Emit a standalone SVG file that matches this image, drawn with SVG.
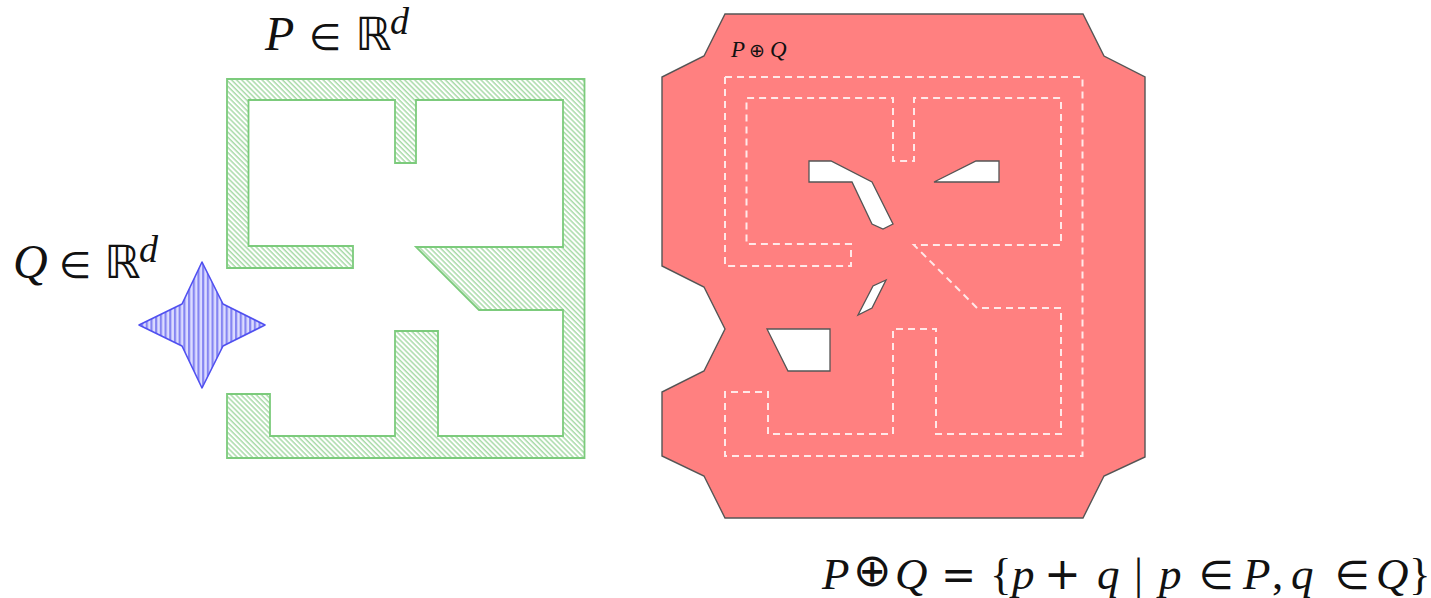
<svg xmlns="http://www.w3.org/2000/svg" width="1431" height="598" viewBox="0 0 1431 598">
<style>
text{fill:#111;font-family:"Liberation Serif","DejaVu Serif",serif;font-size:48px}
.i{font-style:italic}
.m{font-family:"DejaVu Sans","Liberation Sans",sans-serif;font-size:37px}
.n{font-family:"DejaVu Sans","Liberation Sans",sans-serif;font-size:40px}
.b{font-family:"DejaVu Sans","Liberation Sans",sans-serif;font-size:46px}
.s{font-size:38px;font-style:italic}
.f{font-size:45px}
.hole{fill:#fff;stroke:#555;stroke-width:1.3;stroke-linejoin:miter}
</style>
<defs>
<pattern id="g" width="3.6" height="3.6" patternUnits="userSpaceOnUse" patternTransform="rotate(45)">
<rect width="3.6" height="3.6" fill="#fff"/><rect width="3.6" height="1.5" fill="#a9dba9"/>
</pattern>
<pattern id="bl" width="4.7" height="8" patternUnits="userSpaceOnUse">
<rect width="4.7" height="8" fill="#dcdcff"/><rect width="2.2" height="8" fill="#8585f2"/>
</pattern>
<path id="pshape" d="M227 79H584.5V458H227V394H270V436H395V331H438V436H563V310H479L416 247H563V100H416V163H395V100H248.5V246H353V268H227Z"/>
</defs>
<g id="node-P"><use href="#pshape" fill="url(#g)" stroke="#7ccb7c" stroke-width="1.8"/></g>
<g id="node-Q"><path d="M202 262L223 304L265 325L223 346L202 388L182 346L139 325L182 304Z" fill="url(#bl)" stroke="#5050f0" stroke-width="1.6" stroke-linejoin="round"/></g>
<g id="node-PQ">
<path d="M725 14H1083L1104 56L1145 77V457L1104 476L1083 518H725L704 476L662 456V392L704 371L725 329L704 287L662 266V77L704 56Z" fill="#ff8080" stroke="#555" stroke-width="1.4"/>
<path class="hole" d="M809 161H831L872 182L893 224L883 229L872 224L852 182H809Z"/>
<path class="hole" d="M934 182L976 161H999V182Z"/>
<path class="hole" d="M886 280L873 286L858 315L872 308Z"/>
<path class="hole" d="M767 329H830V371H788Z"/>
<use href="#pshape" transform="translate(498,-2)" fill="none" stroke="#ffe8e8" stroke-width="2" stroke-dasharray="7 5"/>
<text x="731" y="57" style="font-size:23px"><tspan class="i">P</tspan><tspan x="749" style="font-family:'DejaVu Sans',sans-serif;font-size:19px">⊕</tspan><tspan class="i" x="770">Q</tspan></text>
</g>
<g id="labels">
<text y="50"><tspan class="i" x="265">P</tspan><tspan class="m" x="309">∈</tspan><tspan class="b" x="355">ℝ</tspan><tspan class="s" x="390" y="34">d</tspan></text>
<text y="278"><tspan class="i" x="13">Q</tspan><tspan class="m" x="59">∈</tspan><tspan class="b" x="104">ℝ</tspan><tspan class="s" x="139" y="262">d</tspan></text>
<text y="589" class="f"><tspan class="i" x="822">P</tspan><tspan class="b" x="853" y="586">⊕</tspan><tspan class="i" x="895" y="589">Q</tspan><tspan class="n" x="941" style="font-size:42px">=</tspan><tspan x="990">{</tspan><tspan class="i" x="1012">p</tspan><tspan class="n" x="1044" style="font-size:44px">+</tspan><tspan class="i" x="1097">q</tspan><tspan x="1134">|</tspan><tspan class="i" x="1159">p</tspan><tspan class="n" x="1199">∈</tspan><tspan class="i" x="1243">P</tspan><tspan x="1272">,</tspan><tspan class="i" x="1291">q</tspan><tspan class="n" x="1335">∈</tspan><tspan class="i" x="1376">Q</tspan><tspan x="1409">}</tspan></text>
</g>
</svg>
